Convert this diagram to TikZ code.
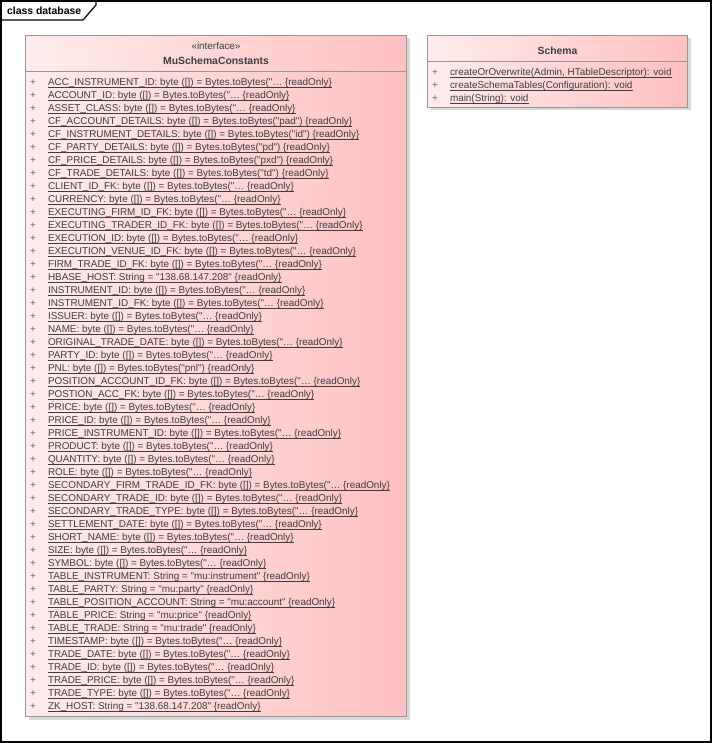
\documentclass[tikz,border=0pt]{standalone}
\usepackage{fontspec}
\newfontfamily\umlfont{Liberation Sans}
\usepackage{tikz}
\usetikzlibrary{positioning, calc, shadows}
\definecolor{classleft}{RGB}{255, 236, 236}
\definecolor{classright}{RGB}{255, 192, 192}
\definecolor{classborder}{RGB}{150, 150, 150}
\definecolor{classshadow}{RGB}{218, 218, 218}
\definecolor{membertext}{RGB}{62, 62, 62}
\definecolor{plusmark}{RGB}{100, 100, 115}

\begin{document}
\begin{tikzpicture}[
    x=1pt, y=-1pt,
    % Styles embedded for portability
    frame_line/.style={draw=black, line width=1.2pt},
    tab_text/.style={font=\umlfont\fontsize{10.4pt}{13pt}\selectfont\bfseries, inner sep=0pt},
    class_box/.style={rectangle, inner sep=0pt, draw=classborder, line width=1pt, left color=classleft, right color=classright, general shadow={shadow xshift=3pt, shadow yshift=-3pt, fill=classshadow}},
    stereo_text/.style={font=\umlfont\fontsize{9.9pt}{13pt}\selectfont, text=membertext, inner sep=0pt, anchor=base},
    name_text/.style={font=\umlfont\fontsize{10.4pt}{13pt}\selectfont\bfseries, text=membertext, inner sep=0pt, anchor=base},
    sep_line/.style={draw=classborder, line width=1pt},
    plus_mark/.style={font=\umlfont\fontsize{9.9pt}{13pt}\selectfont, text=plusmark, inner sep=0pt, outer sep=0pt, text height=10.9pt, text depth=2.1pt},
    attr_row/.style={font=\umlfont\fontsize{9.9pt}{13pt}\selectfont, text=membertext, anchor=north west, inner sep=0pt, outer sep=0pt, text height=10.9pt, text depth=2.1pt,
        label={[plus_mark, label distance=12.1pt]left:+},
        append after command={(\tikzlastnode.south west) edge[draw=membertext, line width=0.8pt] (\tikzlastnode.south east)}}
]

    % --- DIAGRAM FRAME ---
    \useasboundingbox (0,0) rectangle (712,743);
    \draw [frame_line] (1,1) rectangle (711,742);
    \node [tab_text, anchor=base west] (title) at (7,15) {class database};
    \draw [frame_line] (96,1) -- (96,5) -- (83,20) -- (1,20);

    % --- INTERFACE: MuSchemaConstants ---
    \node [class_box, anchor=north west, minimum width=381pt, minimum height=681pt] (cst) at (25,35) {};
    \node [stereo_text] (cst_stereo) at ($(cst.north)+(0,15)$) {«interface»};
    \node [name_text] (cst_name) at ($(cst.north)+(0,30)$) {MuSchemaConstants};
    \coordinate (cst_sep) at ($(cst.north west)+(0,37)$);
    \draw [sep_line] (cst_sep) -- (cst_sep -| cst.east);

    \node [attr_row] (c1) at ($(cst_sep)+(23,2.3)$) {ACC\_INSTRUMENT\_ID: byte ([]) = Bytes.toBytes("… \{readOnly\}};
    \node [attr_row] (c2) at (c1.south west) {ACCOUNT\_ID: byte ([]) = Bytes.toBytes("… \{readOnly\}};
    \node [attr_row] (c3) at (c2.south west) {ASSET\_CLASS: byte ([]) = Bytes.toBytes("… \{readOnly\}};
    \node [attr_row] (c4) at (c3.south west) {CF\_ACCOUNT\_DETAILS: byte ([]) = Bytes.toBytes("pad") \{readOnly\}};
    \node [attr_row] (c5) at (c4.south west) {CF\_INSTRUMENT\_DETAILS: byte ([]) = Bytes.toBytes("id") \{readOnly\}};
    \node [attr_row] (c6) at (c5.south west) {CF\_PARTY\_DETAILS: byte ([]) = Bytes.toBytes("pd") \{readOnly\}};
    \node [attr_row] (c7) at (c6.south west) {CF\_PRICE\_DETAILS: byte ([]) = Bytes.toBytes("pxd") \{readOnly\}};
    \node [attr_row] (c8) at (c7.south west) {CF\_TRADE\_DETAILS: byte ([]) = Bytes.toBytes("td") \{readOnly\}};
    \node [attr_row] (c9) at (c8.south west) {CLIENT\_ID\_FK: byte ([]) = Bytes.toBytes("… \{readOnly\}};
    \node [attr_row] (c10) at (c9.south west) {CURRENCY: byte ([]) = Bytes.toBytes("… \{readOnly\}};
    \node [attr_row] (c11) at (c10.south west) {EXECUTING\_FIRM\_ID\_FK: byte ([]) = Bytes.toBytes("… \{readOnly\}};
    \node [attr_row] (c12) at (c11.south west) {EXECUTING\_TRADER\_ID\_FK: byte ([]) = Bytes.toBytes("… \{readOnly\}};
    \node [attr_row] (c13) at (c12.south west) {EXECUTION\_ID: byte ([]) = Bytes.toBytes("… \{readOnly\}};
    \node [attr_row] (c14) at (c13.south west) {EXECUTION\_VENUE\_ID\_FK: byte ([]) = Bytes.toBytes("… \{readOnly\}};
    \node [attr_row] (c15) at (c14.south west) {FIRM\_TRADE\_ID\_FK: byte ([]) = Bytes.toBytes("… \{readOnly\}};
    \node [attr_row] (c16) at (c15.south west) {HBASE\_HOST: String = "138.68.147.208" \{readOnly\}};
    \node [attr_row] (c17) at (c16.south west) {INSTRUMENT\_ID: byte ([]) = Bytes.toBytes("… \{readOnly\}};
    \node [attr_row] (c18) at (c17.south west) {INSTRUMENT\_ID\_FK: byte ([]) = Bytes.toBytes("… \{readOnly\}};
    \node [attr_row] (c19) at (c18.south west) {ISSUER: byte ([]) = Bytes.toBytes("… \{readOnly\}};
    \node [attr_row] (c20) at (c19.south west) {NAME: byte ([]) = Bytes.toBytes("… \{readOnly\}};
    \node [attr_row] (c21) at (c20.south west) {ORIGINAL\_TRADE\_DATE: byte ([]) = Bytes.toBytes("… \{readOnly\}};
    \node [attr_row] (c22) at (c21.south west) {PARTY\_ID: byte ([]) = Bytes.toBytes("… \{readOnly\}};
    \node [attr_row] (c23) at (c22.south west) {PNL: byte ([]) = Bytes.toBytes("pnl") \{readOnly\}};
    \node [attr_row] (c24) at (c23.south west) {POSITION\_ACCOUNT\_ID\_FK: byte ([]) = Bytes.toBytes("… \{readOnly\}};
    \node [attr_row] (c25) at (c24.south west) {POSTION\_ACC\_FK: byte ([]) = Bytes.toBytes("… \{readOnly\}};
    \node [attr_row] (c26) at (c25.south west) {PRICE: byte ([]) = Bytes.toBytes("… \{readOnly\}};
    \node [attr_row] (c27) at (c26.south west) {PRICE\_ID: byte ([]) = Bytes.toBytes("… \{readOnly\}};
    \node [attr_row] (c28) at (c27.south west) {PRICE\_INSTRUMENT\_ID: byte ([]) = Bytes.toBytes("… \{readOnly\}};
    \node [attr_row] (c29) at (c28.south west) {PRODUCT: byte ([]) = Bytes.toBytes("… \{readOnly\}};
    \node [attr_row] (c30) at (c29.south west) {QUANTITY: byte ([]) = Bytes.toBytes("… \{readOnly\}};
    \node [attr_row] (c31) at (c30.south west) {ROLE: byte ([]) = Bytes.toBytes("… \{readOnly\}};
    \node [attr_row] (c32) at (c31.south west) {SECONDARY\_FIRM\_TRADE\_ID\_FK: byte ([]) = Bytes.toBytes("… \{readOnly\}};
    \node [attr_row] (c33) at (c32.south west) {SECONDARY\_TRADE\_ID: byte ([]) = Bytes.toBytes("… \{readOnly\}};
    \node [attr_row] (c34) at (c33.south west) {SECONDARY\_TRADE\_TYPE: byte ([]) = Bytes.toBytes("… \{readOnly\}};
    \node [attr_row] (c35) at (c34.south west) {SETTLEMENT\_DATE: byte ([]) = Bytes.toBytes("… \{readOnly\}};
    \node [attr_row] (c36) at (c35.south west) {SHORT\_NAME: byte ([]) = Bytes.toBytes("… \{readOnly\}};
    \node [attr_row] (c37) at (c36.south west) {SIZE: byte ([]) = Bytes.toBytes("… \{readOnly\}};
    \node [attr_row] (c38) at (c37.south west) {SYMBOL: byte ([]) = Bytes.toBytes("… \{readOnly\}};
    \node [attr_row] (c39) at (c38.south west) {TABLE\_INSTRUMENT: String = "mu:instrument" \{readOnly\}};
    \node [attr_row] (c40) at (c39.south west) {TABLE\_PARTY: String = "mu:party" \{readOnly\}};
    \node [attr_row] (c41) at (c40.south west) {TABLE\_POSITION\_ACCOUNT: String = "mu:account" \{readOnly\}};
    \node [attr_row] (c42) at (c41.south west) {TABLE\_PRICE: String = "mu:price" \{readOnly\}};
    \node [attr_row] (c43) at (c42.south west) {TABLE\_TRADE: String = "mu:trade" \{readOnly\}};
    \node [attr_row] (c44) at (c43.south west) {TIMESTAMP: byte ([]) = Bytes.toBytes("… \{readOnly\}};
    \node [attr_row] (c45) at (c44.south west) {TRADE\_DATE: byte ([]) = Bytes.toBytes("… \{readOnly\}};
    \node [attr_row] (c46) at (c45.south west) {TRADE\_ID: byte ([]) = Bytes.toBytes("… \{readOnly\}};
    \node [attr_row] (c47) at (c46.south west) {TRADE\_PRICE: byte ([]) = Bytes.toBytes("… \{readOnly\}};
    \node [attr_row] (c48) at (c47.south west) {TRADE\_TYPE: byte ([]) = Bytes.toBytes("… \{readOnly\}};
    \node [attr_row] (c49) at (c48.south west) {ZK\_HOST: String = "138.68.147.208" \{readOnly\}};

    % --- CLASS: Schema ---
    \node [class_box, right=20pt of cst.north east, anchor=north west, minimum width=260pt, minimum height=72pt] (schema) {};
    \node [name_text] (schema_name) at ($(schema.north)+(0,20)$) {Schema};
    \coordinate (schema_sep) at ($(schema.north west)+(0,27)$);
    \draw [sep_line] (schema_sep) -- (schema_sep -| schema.east);

    \node [attr_row] (s1) at ($(schema_sep)+(23,2.8)$) {createOrOverwrite(Admin, HTableDescriptor): void};
    \node [attr_row] (s2) at (s1.south west) {createSchemaTables(Configuration): void};
    \node [attr_row] (s3) at (s2.south west) {main(String): void};

\end{tikzpicture}
\end{document}
